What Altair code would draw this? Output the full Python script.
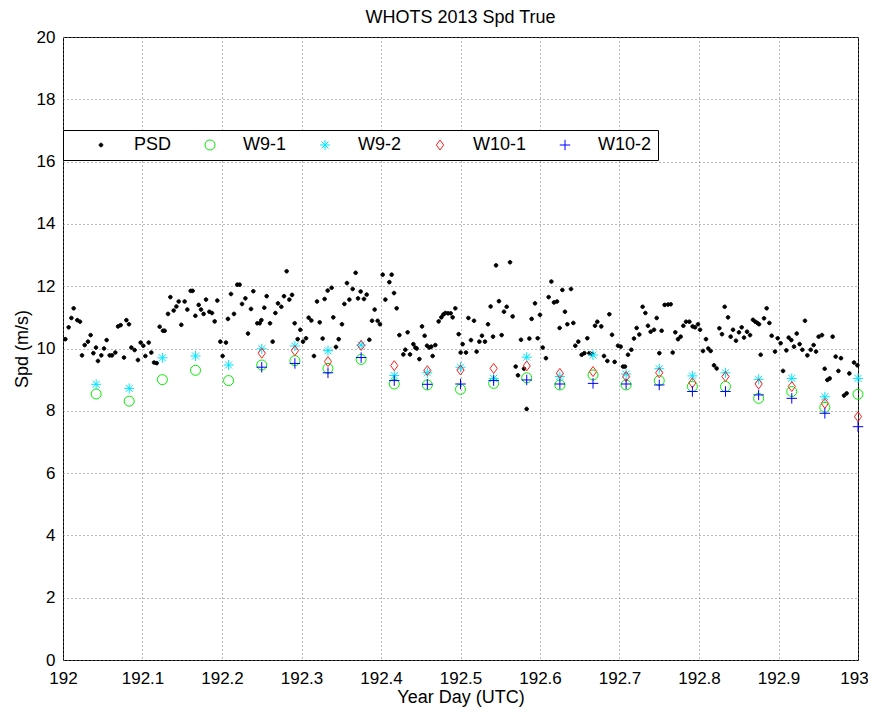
import altair as alt
import pandas as pd

# ---- PSD (10-min / 5-min samples) ----
psd_day = [
    192.0029, 192.0071, 192.0105, 192.0134, 192.0180, 192.0214, 192.0239, 192.0273, 192.0314, 192.0348,
    192.0382, 192.0415, 192.0440, 192.0482, 192.0516, 192.0549, 192.0587, 192.0616, 192.0658, 192.0692,
    192.0725, 192.0767, 192.0797, 192.0830, 192.0860, 192.0901, 192.0943, 192.0977, 192.1010, 192.1036,
    192.1078, 192.1111, 192.1145, 192.1178, 192.1216, 192.1258, 192.1279, 192.1321, 192.1350, 192.1392,
    192.1426, 192.1455, 192.1488, 192.1530, 192.1564, 192.1606, 192.1631, 192.1665,
    192.1707, 192.1736, 192.1769, 192.1799, 192.1841, 192.1874, 192.1908, 192.1941, 192.1979, 192.2008,
    192.2050, 192.2075, 192.2113, 192.2151, 192.2193, 192.2222, 192.2252, 192.2294, 192.2327, 192.2365,
    192.2394, 192.2444, 192.2474, 192.2495, 192.2532, 192.2562, 192.2604, 192.2637, 192.2671, 192.2704,
    192.2746, 192.2780, 192.2813, 192.2847, 192.2881, 192.2914, 192.2952, 192.2985, 192.3019, 192.3057,
    192.3090, 192.3124, 192.3157, 192.3195, 192.3229, 192.3266, 192.3291, 192.3329,
    192.3379, 192.3400, 192.3434, 192.3468, 192.3509, 192.3539, 192.3572, 192.3602, 192.3644, 192.3681,
    192.3711, 192.3744, 192.3786, 192.3820, 192.3853, 192.3887, 192.3920, 192.3958, 192.3987, 192.4021,
    192.4055, 192.4105, 192.4134, 192.4164, 192.4197, 192.4231, 192.4281, 192.4306, 192.4335, 192.4365,
    192.4407, 192.4432, 192.4449, 192.4482, 192.4516, 192.4549, 192.4579, 192.4608, 192.4633, 192.4650,
    192.4683, 192.4725, 192.4759, 192.4784, 192.4809, 192.4843, 192.4876, 192.4901, 192.4935, 192.4977,
    192.5002, 192.5027,
    192.5069, 192.5099, 192.5132, 192.5170, 192.5203, 192.5237, 192.5270, 192.5308, 192.5346, 192.5379,
    192.5409, 192.5447, 192.5484, 192.5518, 192.5547, 192.5581, 192.5623, 192.5656, 192.5694, 192.5723,
    192.5761, 192.5799, 192.5832, 192.5866, 192.5895, 192.5937, 192.5971, 192.6000, 192.6034, 192.6075,
    192.6109, 192.6143, 192.6176, 192.6214, 192.6247, 192.6281, 192.6314, 192.6344, 192.6390, 192.6419,
    192.6444, 192.6482, 192.6524, 192.6558, 192.6595, 192.6621, 192.6655, 192.6692, 192.6721,
    192.6771, 192.6805, 192.6847, 192.6872, 192.6906, 192.6939, 192.6981, 192.7015, 192.7044, 192.7069,
    192.7107, 192.7149, 192.7182, 192.7216, 192.7249, 192.7291, 192.7325, 192.7358, 192.7392, 192.7434,
    192.7468, 192.7501, 192.7530, 192.7568, 192.7610, 192.7644, 192.7669, 192.7702, 192.7736, 192.7769,
    192.7803, 192.7837, 192.7879, 192.7920, 192.7950, 192.7987, 192.8013, 192.8050, 192.8088, 192.8117,
    192.8147, 192.8189, 192.8222, 192.8256, 192.8289, 192.8323, 192.8365, 192.8398,
    192.8428, 192.8465, 192.8503, 192.8537, 192.8566, 192.8604, 192.8642, 192.8679, 192.8709, 192.8734,
    192.8755, 192.8776, 192.8818, 192.8851, 192.8885, 192.8914, 192.8956, 192.8990, 192.9027, 192.9057,
    192.9099, 192.9128, 192.9161, 192.9195, 192.9229, 192.9266, 192.9300, 192.9333, 192.9363, 192.9405,
    192.9442, 192.9472, 192.9505, 192.9547, 192.9581, 192.9614, 192.9644, 192.9681, 192.9719, 192.9753,
    192.9786, 192.9824, 192.9857, 192.9891, 192.9950, 192.9992,
]
psd_spd = [
    10.30, 10.68, 10.98, 11.29, 10.91, 10.86, 9.78, 10.11, 10.22, 10.43,
    9.85, 10.03, 9.60, 9.78, 10.00, 10.27, 9.78, 9.78, 9.87, 10.71,
    10.75, 9.71, 10.91, 10.78, 10.03, 9.95, 9.63, 10.19, 10.09, 9.76,
    10.19, 9.87, 9.55, 9.53, 10.70, 10.57, 10.57, 11.11, 11.65, 11.22,
    11.35, 11.51, 10.76, 11.51, 11.25, 11.85, 11.85, 11.05,
    11.40, 11.25, 11.11, 11.57, 11.18, 11.14, 10.87, 11.54, 10.22, 9.76,
    10.19, 10.95, 11.75, 11.11, 12.05, 12.05, 11.43, 11.61, 10.48, 11.27,
    11.84, 10.81, 10.81, 10.91, 11.31, 11.68, 10.81, 10.22, 11.14, 11.45,
    11.34, 11.68, 12.48, 11.57, 11.72, 10.81, 10.30, 10.60, 10.22, 10.33,
    10.99, 10.90, 9.76, 11.51, 10.84, 10.32, 11.59, 11.86,
    11.95, 11.00, 10.05, 10.30, 10.78, 11.43, 12.10, 11.57, 11.91, 12.43,
    11.61, 11.83, 11.59, 11.73, 10.28, 10.89, 11.25, 10.89, 10.78, 12.37,
    11.57, 12.13, 12.37, 11.78, 11.29, 10.43, 9.81, 9.96, 10.52, 9.81,
    10.14, 10.03, 10.00, 9.66, 10.71, 10.41, 10.09, 10.03, 10.06, 9.76,
    10.11, 10.87, 11.00, 11.09, 11.14, 11.13, 11.13, 11.00, 11.29, 10.46,
    9.87, 10.14,
    9.87, 10.98, 10.27, 10.89, 9.90, 10.22, 10.41, 10.22, 10.78, 11.35,
    10.38, 12.67, 11.52, 10.43, 11.18, 11.34, 12.77, 11.03, 9.42, 9.14,
    10.28, 9.35, 8.06, 10.32, 10.95, 11.45, 10.33, 11.08, 10.03, 9.69,
    11.65, 12.15, 11.48, 11.51, 10.66, 11.88, 11.18, 10.78, 11.91, 10.82,
    10.09, 10.22, 9.80, 9.85, 10.33, 9.85, 9.82, 10.73, 10.86,
    10.71, 9.76, 9.60, 11.10, 10.44, 9.57, 10.09, 10.06, 9.42, 9.42,
    9.80, 9.96, 10.32, 10.66, 10.45, 11.34, 11.14, 10.73, 10.54, 10.60,
    10.98, 9.85, 10.57, 11.40, 11.41, 11.42, 9.87, 10.52, 10.30, 10.38,
    10.73, 10.86, 10.86, 10.71, 10.68, 10.78, 10.60, 9.92, 10.30, 10.00,
    9.92, 9.46, 9.36, 10.65, 10.46, 11.34, 11.00, 10.38,
    10.60, 10.25, 10.52, 10.68, 10.35, 10.54, 10.43, 10.92, 10.86, 10.82,
    10.78, 9.80, 10.97, 11.29, 10.82, 10.41, 9.90, 10.33, 10.17, 9.28,
    9.94, 10.35, 10.27, 10.06, 10.48, 10.14, 9.96, 10.89, 9.78, 9.96,
    10.11, 9.90, 10.38, 10.43, 9.35, 8.99, 9.04, 10.38, 9.74, 9.28,
    9.69, 8.49, 8.56, 9.20, 9.55, 9.46,
]

# ---- hourly sensor values ----
w_day = [192.0417, 192.0833, 192.125, 192.1667, 192.2083, 192.25, 192.2917, 192.3333,
         192.375, 192.4167, 192.4583, 192.5, 192.5417, 192.5833, 192.625, 192.6667,
         192.7083, 192.75, 192.7917, 192.8333, 192.875, 192.9167, 192.9583, 193.0]
w9_1 = [8.54, 8.31, 9.00, 9.30, 8.97, 9.47, 9.61, 9.36, 9.65, 8.86, 8.83, 8.69,
        8.88, 9.06, 8.83, 9.15, 8.83, 8.97, 8.78, 8.78, 8.40, 8.62, 8.11, 8.53]
w9_2 = [8.85, 8.72, 9.70, 9.76, 9.47, 9.99, 10.08, 9.93, 10.11, 9.13, 9.22, 9.40,
        9.04, 9.72, 9.10, 9.79, 9.18, 9.35, 9.12, 9.22, 9.01, 9.04, 8.45, 9.04]
w10_1 = [None, None, None, None, None, 9.85, 9.93, 9.58, 10.10, 9.45, 9.29, 9.31,
         9.36, 9.44, 9.20, 9.26, 9.10, 9.22, 8.90, 9.10, 8.86, 8.78, 8.24, 7.81]
w10_2 = [None, None, None, None, None, 9.40, 9.52, 9.22, 9.71, 8.97, 8.85, 8.86,
         8.97, 8.99, 8.86, 8.88, 8.86, 8.83, 8.62, 8.62, 8.51, 8.40, 7.92, 7.49]

series_names = ["PSD", "W9-1", "W9-2", "W10-1", "W10-2"]
x_ticks = [192, 192.1, 192.2, 192.3, 192.4, 192.5, 192.6, 192.7, 192.8, 192.9, 193]
y_ticks = [0, 2, 4, 6, 8, 10, 12, 14, 16, 18, 20]

rows = [{"day": d, "spd": s, "series": "PSD"} for d, s in zip(psd_day, psd_spd)]
for name, vals in zip(series_names[1:], [w9_1, w9_2, w10_1, w10_2]):
    rows += [{"day": d, "spd": v, "series": name} for d, v in zip(w_day, vals) if v is not None]
df = pd.DataFrame(rows)

stroke_colors = ["#000000", "#00ee00", "#00e5ff", "#ff2020", "#0000ff"]
fill_colors = ["#000000", "transparent", "transparent", "transparent", "transparent"]
DOT = "M0,-0.36A0.36,0.36,0,1,1,0,0.36A0.36,0.36,0,1,1,0,-0.36Z"
STAR = "M-1,0L1,0M0,-1L0,1M-0.7,-0.7L0.7,0.7M-0.7,0.7L0.7,-0.7"
DIAMOND = "M0,-1L0.72,0L0,1L-0.72,0Z"
PLUS = "M-1.05,0L1.05,0M0,-1.05L0,1.05"
shapes = [DOT, "circle", STAR, DIAMOND, PLUS]

FONT = "Liberation Sans"

chart = alt.Chart(df).mark_point(size=100, strokeWidth=1, opacity=1).encode(
    x=alt.X("day:Q",
            scale=alt.Scale(domain=[192, 193], nice=False, zero=False),
            axis=alt.Axis(values=x_ticks, format=".1~f", title="Year Day (UTC)",
                          labelFlush=False,
                          labelOffset={"condition": {"test": "datum.value >= 192.95", "value": -4},
                                       "value": 0})),
    y=alt.Y("spd:Q",
            scale=alt.Scale(domain=[0, 20], nice=False),
            axis=alt.Axis(values=y_ticks, title="Spd (m/s)", labelFlush=False)),
    stroke=alt.Stroke("series:N", scale=alt.Scale(domain=series_names, range=stroke_colors),
                      legend=alt.Legend(title="_")),
    fill=alt.Fill("series:N", scale=alt.Scale(domain=series_names, range=fill_colors),
                  legend=alt.Legend(title="_")),
    shape=alt.Shape("series:N", scale=alt.Scale(domain=series_names, range=shapes),
                    legend=alt.Legend(title="_")),
).properties(
    width=795, height=623,
    title=alt.TitleParams("WHOTS 2013 Spd True", fontSize=18, fontWeight="normal",
                          font=FONT, color="black", offset=1, frame="group"),
    autosize=alt.AutoSizeParams(type="none"),
    padding={"left": 55, "top": 29, "right": 10, "bottom": 47},
).configure_view(
    stroke="black", strokeWidth=1
).configure_axis(
    labelFont=FONT, labelFontSize=17, labelColor="black",
    titleFont=FONT, titleFontSize=18, titleFontWeight="normal", titleColor="black",
    ticks=False, domain=False,
    grid=True, gridColor="#777777", gridDash=[1, 3], gridWidth=1, gridOpacity=1,
).configure_axisX(
    labelPadding=10, titlePadding=2,
).configure_axisY(
    labelPadding=8, titlePadding=5,
).configure_legend(
    orient="none", legendX=0, legendY=93, direction="horizontal",
    strokeColor="black", fillColor="white", padding=6, cornerRadius=0,
    titleOrient="left", titleFontSize=1, titleOpacity=0, titlePadding=22,
    labelFont=FONT, labelFontSize=18, labelColor="black", labelOffset=24,
    columnPadding=29, symbolSize=100, symbolStrokeWidth=1,
)

chart.save("out.html", embed_options={"renderer": "svg", "actions": False})
